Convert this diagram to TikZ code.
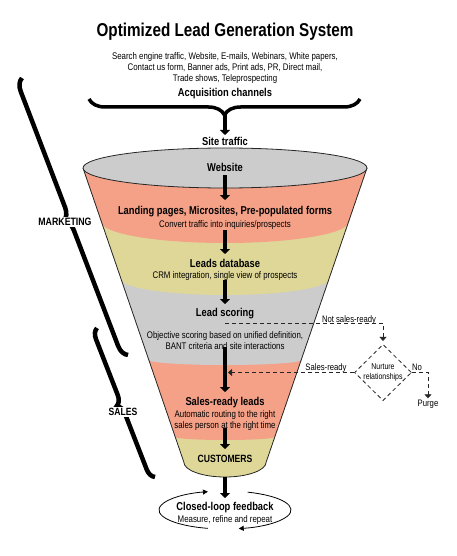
\documentclass[tikz,border=0pt]{standalone}
\usepackage{fontspec}
\setmainfont{Liberation Sans}[FakeStretch=0.82]
\usetikzlibrary{arrows.meta,shapes.geometric,decorations.pathreplacing}
\definecolor{sal}{RGB}{244,161,136}
\definecolor{yel}{RGB}{222,215,152}
\definecolor{gry}{RGB}{204,204,204}
\begin{document}
\begin{tikzpicture}[x=1pt,y=1pt,
  lbl/.style={font=\bfseries\fontsize{11.4}{13}\selectfont, inner sep=0pt, text height=12.2pt, text depth=2.4pt},
  sub/.style={font=\fontsize{9.6}{11.3}\selectfont, inner sep=0pt, align=center},
  small/.style={font=\fontsize{9.4}{11}\selectfont, inner sep=0pt, text height=11pt, text depth=2pt},
  flow/.style={line width=3.2pt, -{Triangle[width=10pt,length=5pt]}},
  dashline/.style={line width=0.8pt, dash pattern=on 4pt off 3pt, draw=black!85},
  dtip/.style={-{Triangle[width=7pt,length=4pt]}},
  sidebrace/.style={decorate, line width=4.5pt, decoration={brace, amplitude=12pt}},
  topbrace/.style={decorate, line width=3.5pt, decoration={brace, amplitude=16pt}},
  looparc/.style={line width=0.8pt, -{Triangle[width=5pt,length=5pt]}},
  side/.style={font=\bfseries\fontsize{10.7}{12}\selectfont, fill=white, inner sep=1.5pt}
]
\useasboundingbox (0,0) rectangle (456,-556);

% title and channels
\node[font=\bfseries\fontsize{18.6}{20}\selectfont, inner sep=0pt, text height=13.3pt, text depth=0pt] (title) at (225,-29.5) {Optimized Lead Generation System};
\node[sub] (chan) at (225,-68) {Search engine traffic, Website, E-mails, Webinars, White papers,\\Contact us form, Banner ads, Print ads, PR, Direct mail,\\Trade shows, Teleprospecting};
\node[lbl] (acq) at (225,-92) {Acquisition channels};
\draw[topbrace] (360,-99) -- (89,-99);
\coordinate (bt) at (225,-114);
\node[lbl] (site) at (225,-141) {Site traffic};
\draw[flow] (bt) -- ([yshift=6]site.center);

% funnel bands
\begin{scope}
\clip (83,-168) -- (183.8,-462) arc[start angle=180, end angle=360, x radius=41.2, y radius=15] -- (367,-168) -- cycle;
\fill[yel] (40,-100) rectangle (420,-500);
\fill[sal] (40,-100) -- (40,-437) -- (175.3,-437) arc[start angle=180, end angle=360, x radius=49.7, y radius=3] -- (420,-437) -- (420,-100) -- cycle;
\fill[gry] (40,-100) -- (40,-360) -- (148.9,-360) arc[start angle=180, end angle=360, x radius=76.1, y radius=5] -- (420,-360) -- (420,-100) -- cycle;
\fill[yel] (40,-100) -- (40,-279) -- (121.1,-279) arc[start angle=180, end angle=360, x radius=103.9, y radius=16] -- (420,-279) -- (420,-100) -- cycle;
\fill[sal] (40,-100) -- (40,-222) -- (101.5,-222) arc[start angle=180, end angle=360, x radius=123.5, y radius=21] -- (420,-222) -- (420,-100) -- cycle;
\end{scope}
\draw[line width=0.8pt, draw=black!85] (83,-168) -- (183.8,-462) arc[start angle=180, end angle=360, x radius=41.2, y radius=15] -- (367,-168);
\draw[line width=0.8pt, draw=black!85, fill=gry] (225,-168) ellipse[x radius=142, y radius=20];

% funnel texts
\node[lbl] (web) at (225,-167) {Website};
\node[lbl] (land) at (225,-210) {Landing pages, Microsites, Pre-populated forms};
\node[sub] (conv) at (225,-225) {Convert traffic into inquiries/prospects};
\node[lbl] (ldb) at (225,-263) {Leads database};
\node[sub] (crm) at (225,-276) {CRM integration, single view of prospects};
\node[lbl] (ls) at (225,-312) {Lead scoring};
\node[sub] (obj) at (225,-340.5) {Objective scoring based on unified definition,\\BANT criteria and site interactions};
\node[lbl] (srl) at (225,-401) {Sales-ready leads};
\node[sub] (auto) at (225,-420.5) {Automatic routing to the right\\sales person at the right time};
\node[lbl, font=\bfseries\fontsize{10.5}{12}\selectfont] (cust) at (225,-458) {CUSTOMERS};

% main flow arrows
\draw[flow] ([yshift=-8]web.center) -- ([yshift=10]land.center);
\draw[flow] ([yshift=-5]conv.center) -- ([yshift=9]ldb.center);
\draw[flow] ([yshift=-4]crm.center) -- ([yshift=8]ls.center);
\draw[flow] ([yshift=-6.5]obj.center) -- ([yshift=9]srl.center);
\draw[flow] ([yshift=-7.5]auto.center) -- ([yshift=9]cust.center);

% closed loop
\node[ellipse, minimum width=132pt, minimum height=38pt, inner sep=0pt] (fb) at (225,-510) {};
\node[lbl] (fbt) at (225,-506) {Closed-loop feedback};
\node[sub] (fbs) at (225,-520) {Measure, refine and repeat};
\draw[flow] ([yshift=-19]cust.center) -- ([yshift=12]fb.center);
\draw[looparc] ([shift={(255:66 and 19)}]fb.center) arc[start angle=255, end angle=105, x radius=66, y radius=19];
\draw[looparc] ([shift={(70:66 and 19)}]fb.center) arc[start angle=70, end angle=-78, x radius=66, y radius=19];

% nurture branch
\node[diamond, draw=black!85, line width=0.8pt, dash pattern=on 4pt off 3pt, minimum width=57pt, minimum height=55pt, inner sep=0pt, align=center, font=\fontsize{8.5}{9.5}\selectfont] (nur) at (383,-372.5) {Nurture\\relationships};
\coordinate (nsr) at (225,-323);
\coordinate (srin) at (228,-372.5);
\node[small] (nsrl) at (349,-318) {Not sales-ready};
\node[small] (srlab) at (326,-366) {Sales-ready};
\node[small] (nolab) at (417,-366) {No};
\node[small] (purge) at (428,-402) {Purge};
\draw[dashline, dtip] (nsr) -| ([yshift=3]nur.north);
\draw[dashline, dtip] (nur.west) -- (srin);
\draw[dashline, dtip] (nur.east) -| ([yshift=-3]purge.north);

% side braces
\draw[sidebrace] (128,-355) -- (22,-78);
\draw[sidebrace, decoration={brace, amplitude=10pt}] (155,-477) -- (97,-328);
\node[side] (mkt) at (65,-222) {MARKETING};
\node[side, font=\bfseries\fontsize{10.5}{12}\selectfont] (sales) at (123,-412) {SALES};
\end{tikzpicture}
\end{document}
